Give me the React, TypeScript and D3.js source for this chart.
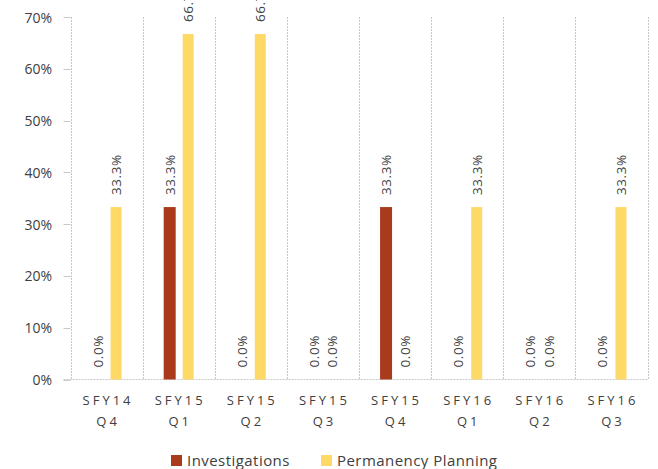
import React from "react";
import * as d3 from "d3";

const categories = [
  ["SFY14", "Q4"],
  ["SFY15", "Q1"],
  ["SFY15", "Q2"],
  ["SFY15", "Q3"],
  ["SFY15", "Q4"],
  ["SFY16", "Q1"],
  ["SFY16", "Q2"],
  ["SFY16", "Q3"],
];
const investigations = [0, 33.3, 0, 0, 33.3, 0, 0, 0];
const permanency = [33.3, 66.7, 66.7, 0, 0, 33.3, 0, 33.3];
const yTicks = [0, 10, 20, 30, 40, 50, 60, 70];
const seriesNames = ["Investigations", "Permanency Planning"];
const colors = ["#A93B1C", "#FFD966"];

const W = 658;
const H = 469;
const left = 70.5;
const right = 647.5;
const top = 17;
const bottom = 379.5;
const FONT = "'Open Sans', Lato, sans-serif";

export default function App() {
  const x = d3
    .scaleBand<number>()
    .domain(d3.range(categories.length))
    .range([left, right])
    .padding(0);
  const y = d3.scaleLinear().domain([0, 70]).range([bottom, top]);
  const bw = x.bandwidth();
  const series = [investigations, permanency];
  const offsets = [
    { dx: -15, w: 12 },
    { dx: 4, w: 11 },
  ];

  return (
    <svg
      width={W}
      height={H}
      style={{ position: "absolute", left: 0, top: 0, background: "#fff" }}
      fontFamily={FONT}
    >
      {d3.range(categories.length + 1).map((i) => {
        const xx = Math.round(left + i * bw) + 0.5;
        return (
          <line
            key={"g" + i}
            x1={xx}
            x2={xx}
            y1={top}
            y2={bottom}
            stroke="#c8c8c8"
            strokeWidth={1}
            strokeDasharray="2,1"
          />
        );
      })}
      {yTicks.map((t) => (
        <g key={"yt" + t}>
          <line
            x1={left - 7}
            x2={left}
            y1={Math.round(y(t)) + 0.5}
            y2={Math.round(y(t)) + 0.5}
            stroke="#c8c8c8"
          />
          <text
            x={52}
            y={y(t)}
            textAnchor="end"
            dominantBaseline="central"
            fontSize={14}
            fill="#404040"
          >
            {t + "%"}
          </text>
        </g>
      ))}
      <line
        x1={left - 7}
        x2={right}
        y1={bottom}
        y2={bottom}
        stroke="#c8c8c8"
        strokeDasharray="2,1"
      />
      {series.map((vals, s) =>
        vals.map((v, i) => {
          const cx = (x(i) as number) + bw / 2;
          const bx = cx + offsets[s].dx;
          const by = y(v);
          const lx = bx + offsets[s].w / 2;
          const ly = by - 12;
          return (
            <g key={"b" + s + "-" + i}>
              {v > 0 && (
                <rect
                  x={bx}
                  y={by}
                  width={offsets[s].w}
                  height={bottom - by}
                  fill={colors[s]}
                />
              )}
              <text
                transform={`translate(${lx},${ly}) rotate(-90)`}
                textAnchor="start"
                dominantBaseline="central"
                fontSize={13.5}
                letterSpacing={0.6}
                fill="#404040"
              >
                {v.toFixed(1) + "%"}
              </text>
            </g>
          );
        })
      )}
      {categories.map((c, i) => {
        const cx = (x(i) as number) + bw / 2;
        return (
          <text
            key={"xl" + i}
            x={cx + 1.5}
            textAnchor="middle"
            fontSize={13}
            fill="#404040"
            letterSpacing={3}
          >
            <tspan x={cx + 1.5} y={405}>
              {c[0]}
            </tspan>
            <tspan x={cx + 1.5} y={426}>
              {c[1]}
            </tspan>
          </text>
        );
      })}
      {seriesNames.map((n, s) => {
        const lx = s === 0 ? 171 : 321;
        return (
          <g key={"lg" + s}>
            <rect x={lx} y={455} width={11} height={11} fill={colors[s]} />
            <text
              x={lx + 16}
              y={460}
              dominantBaseline="central"
              fontSize={15}
              letterSpacing={0.45}
              fill="#404040"
            >
              {n}
            </text>
          </g>
        );
      })}
    </svg>
  );
}
